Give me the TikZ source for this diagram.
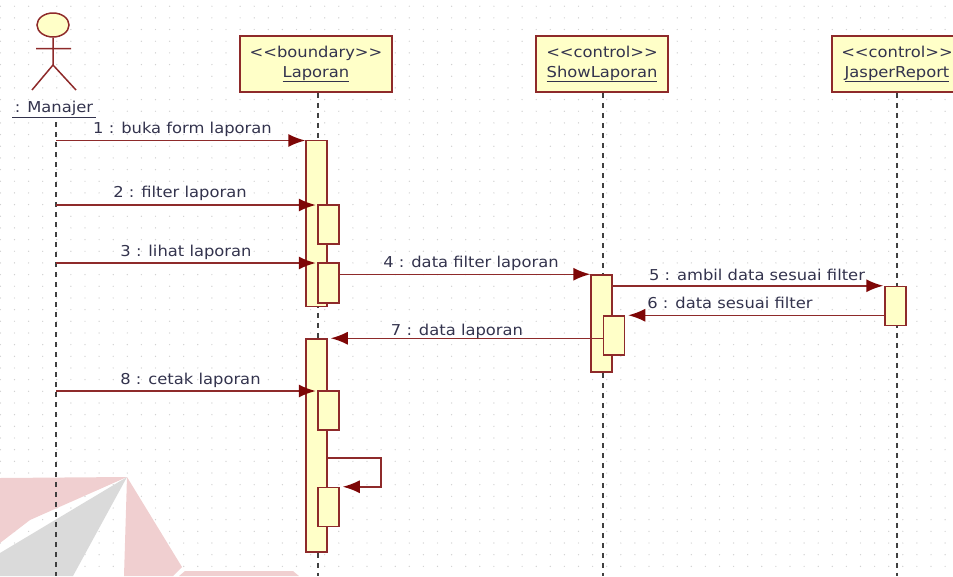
\documentclass[tikz,border=0pt]{standalone}
\usepackage{fontspec}
\setmainfont[FakeStretch=1.09]{DejaVu Sans}
\usetikzlibrary{arrows.meta,calc,shapes.geometric}
\definecolor{umlline}{HTML}{8E2A2A}
\definecolor{umlfill}{HTML}{FFFFC8}
\definecolor{umltip}{HTML}{7E0606}
\definecolor{umltext}{HTML}{33334D}
\definecolor{markpink}{HTML}{F0CFD0}
\definecolor{markgray}{HTML}{DADADA}
\tikzset{
  msgarrow/.style={-{Latex[length=17pt,width=13pt,color=umltip]}, umlline, line width=1.5pt},
  msgplain/.style={umlline, line width=1.5pt},
  objbox/.style={draw=umlline, fill=umlfill, line width=1.5pt, minimum height=56pt, align=center, font=\fontsize{15}{20}\selectfont, text=umltext, inner sep=0pt},
  activebox/.style={draw=umlline, fill=umlfill, line width=1.5pt, minimum width=21pt, inner sep=0pt},
  actorhead/.style={draw=umlline, fill=umlfill, line width=1.5pt, ellipse, minimum width=32pt, minimum height=24pt, inner sep=0pt},
  msglabel/.style={font=\fontsize{15}{17}\selectfont, text=umltext, inner sep=0pt},
  lifeline/.style={black!75, line width=1.3pt, dash pattern=on 5pt off 5pt},
  griddot/.style={black!18}
}
\begin{document}
\begin{tikzpicture}[x=1pt,y=-1pt]
  \useasboundingbox (0,0) rectangle (953,576);
  \clip (0,0) rectangle (953,576);
  % background dots
  \foreach \i in {0,...,67}{
    \foreach \j in {0,...,49}{
      \fill[griddot] ({0.4+\i*14.1},{6.2+\j*11.67}) circle (0.7pt);
    }
  }
  % watermark
  \fill[markpink] (0,478) -- (127,477) -- (30,520) -- (0,543) -- cycle;
  \fill[markgray] (127,477) -- (73,576) -- (0,576) -- (0,553) -- cycle;
  \fill[markpink] (127,477) -- (182,567) -- (173,576) -- (124,576) -- cycle;
  \fill[markpink] (185,571) -- (293,571) -- (299,576) -- (179,576) -- cycle;
  % objects
  \node[objbox, minimum width=152pt] (laporan) at (316,64) {<{}<boundary>{}>\\\underline{Laporan}};
  \node[objbox, minimum width=132pt] (show) at (602,64) {<{}<control>{}>\\\underline{ShowLaporan}};
  \node[objbox, minimum width=130pt] (jasper) at (897,64) {<{}<control>{}>\\\underline{JasperReport}};
  % actor
  \node[actorhead] (head) at (53,25) {};
  \node[msglabel] (manajer) at (54,109.5) {\underline{\,: Manajer\,}};
  \coordinate (hip) at (53,65);
  \coordinate (armL) at (36,48.5);
  \coordinate (armR) at (71,48.5);
  \coordinate (legL) at (32,90);
  \coordinate (legR) at (76,90);
  \draw[msgplain] (head.south) -- (hip) (armL) -- (armR) (legL) -- (hip) -- (legR);
  % lifelines
  \coordinate (manajertop) at (56,122);
  \coordinate (manajerend) at (56,576);
  \draw[lifeline] (manajertop) -- (manajerend);
  \coordinate (laporanend) at (318,576);
  \coordinate (showend) at (603,576);
  \coordinate (jasperend) at (897,576);
  \draw[lifeline] (laporan.south -| laporanend) -- (laporanend);
  \draw[lifeline] (show.south -| showend) -- (showend);
  \draw[lifeline] (jasper.south) -- (jasperend);
  % activations
  \node[activebox, minimum height=166pt] (act1) at (316.5,223.5) {};
  \node[activebox, minimum height=39pt] (act2) at (328.5,224.5) {};
  \node[activebox, minimum height=40pt] (act3) at (328.5,283) {};
  \node[activebox, minimum height=97pt] (act4) at (601.5,323.5) {};
  \node[activebox, minimum height=39pt] (act5) at (895.5,306) {};
  \node[activebox, minimum height=39pt] (act6) at (614,335.5) {};
  \node[activebox, minimum height=213pt] (act7) at (316.5,445.5) {};
  \node[activebox, minimum height=39pt] (act8) at (328.5,410.5) {};
  \node[activebox, minimum height=39pt] (act9) at (328.5,507) {};
  % messages
  \coordinate (m1) at (56,140.5);
  \coordinate (m2) at (56,205);
  \coordinate (m3) at (56,263);
  \coordinate (m8) at (56,391);
  \draw[msgarrow] (m1) -- (act1.west |- m1);
  \draw[msgarrow, shorten >=1.5pt] (m2) -- (act2.west |- m2);
  \draw[msgarrow, shorten >=1.5pt] (m3) -- (act3.west |- m3);
  \draw[msgarrow] (act3.east |- act4.north west) -- (act4.north west);
  \draw[msgarrow, shorten >=1pt] (act4.east |- act5.north west) -- (act5.north west);
  \draw[msgarrow, shorten >=3pt] (act5.west |- act6.north east) -- (act6.north east);
  \draw[msgarrow, shorten >=3pt] (act6.west |- act7.north east) -- (act7.north east);
  \draw[msgarrow, shorten >=1.5pt] (m8) -- (act8.west |- m8);
  \coordinate (selftop) at (381,458);
  \draw[msgarrow, shorten >=3pt] (act7.east |- selftop) -- (selftop) -- (selftop |- act9.north east) -- (act9.north east);
  % labels
  \node[msglabel] (lab1) at (182.5,129) {1 : buka form laporan};
  \node[msglabel] (lab2) at (180,193.5) {2 : filter laporan};
  \node[msglabel] (lab3) at (186,252) {3 : lihat laporan};
  \node[msglabel] (lab4) at (471,263.5) {4 : data filter laporan};
  \node[msglabel] (lab5) at (757,275) {5 : ambil data sesuai filter};
  \node[msglabel] (lab6) at (730,302.5) {6 : data sesuai filter};
  \node[msglabel] (lab7) at (457,331.5) {7 : data laporan};
  \node[msglabel] (lab8) at (190.5,380) {8 : cetak laporan};
\end{tikzpicture}
\end{document}
